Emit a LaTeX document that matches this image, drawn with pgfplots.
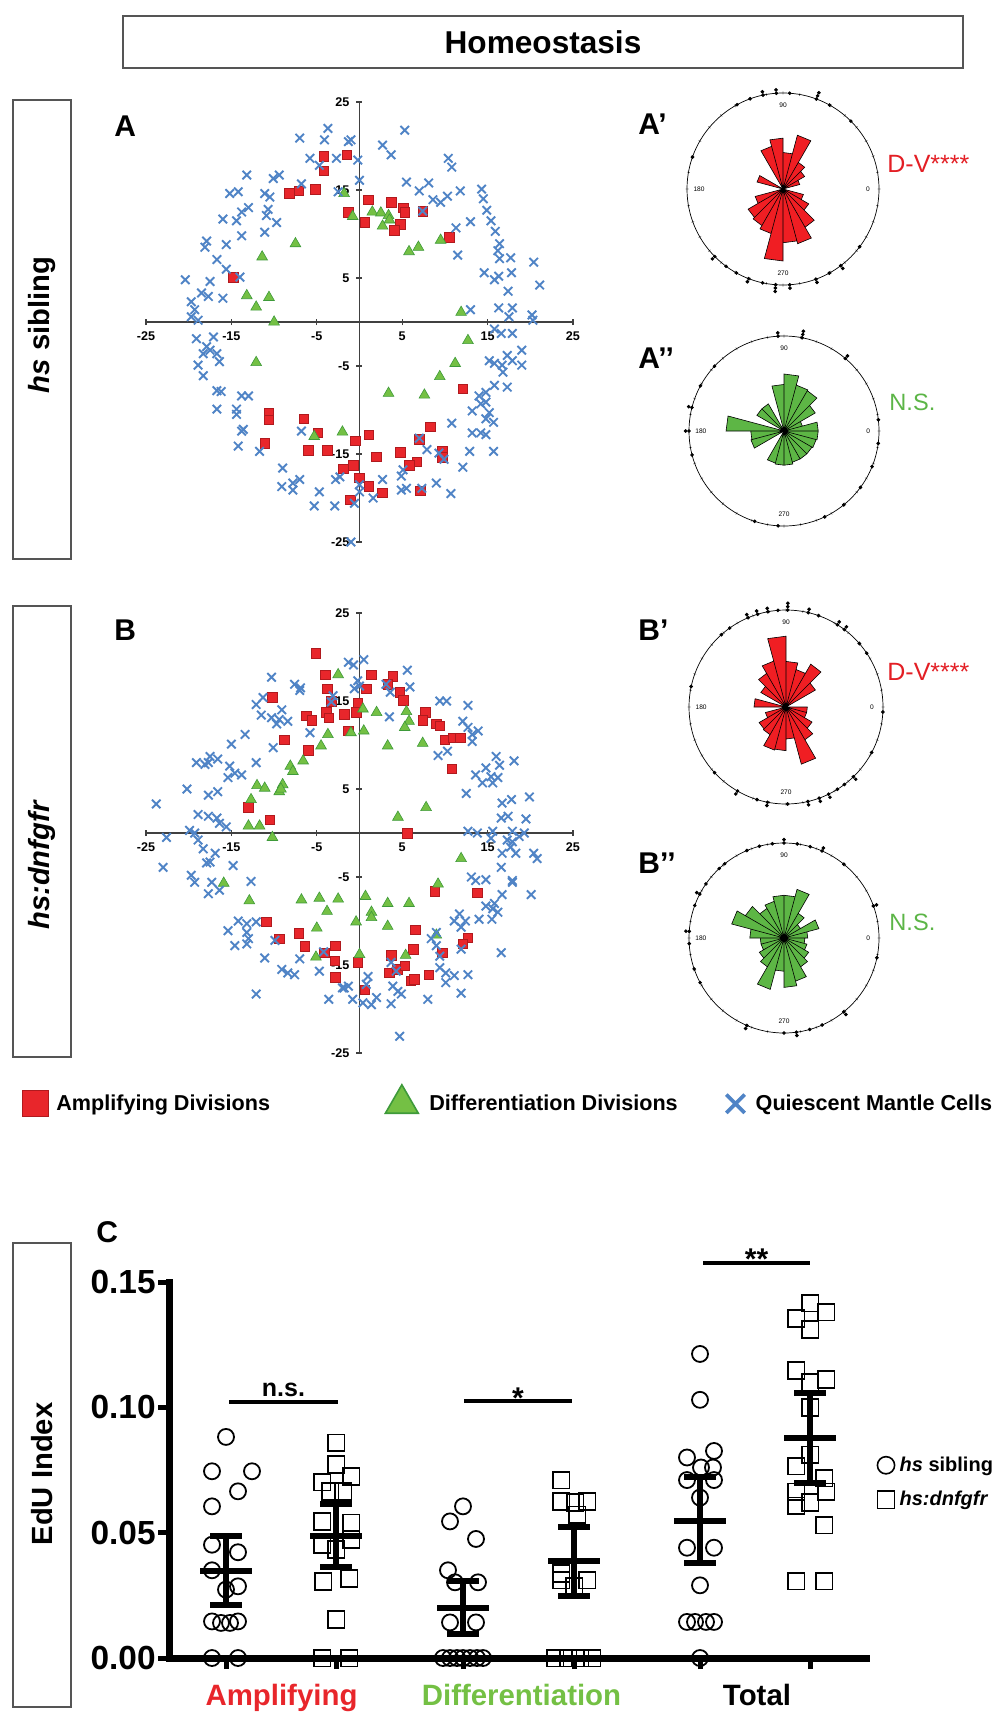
\documentclass[border=0pt]{standalone}
\usepackage{pgfplots}
\pgfplotsset{compat=1.18}
\usepgfplotslibrary{polar}
\usepackage{fontspec}
\setmainfont{Liberation Sans}
\definecolor{sqred}{HTML}{E8262B}
\definecolor{sqredd}{HTML}{B01A1E}
\definecolor{trigreen}{HTML}{74C044}
\definecolor{trigreend}{HTML}{3E9A3A}
\definecolor{xblue}{HTML}{5084C6}
\definecolor{rosered}{HTML}{F01E23}
\definecolor{rosegreen}{HTML}{5DB645}
\definecolor{txtred}{HTML}{E31E24}
\definecolor{txtgreen}{HTML}{5CB547}
\definecolor{axgray}{HTML}{404040}
\definecolor{boxgray}{HTML}{555555}
\newcommand{\fs}[2]{\fontsize{#1}{#2}\selectfont}
\pgfplotsset{
  scat/.style={scale only axis, width=213.5pt, height=220pt,
    xmin=-25, xmax=25, ymin=-25, ymax=25,
    axis lines=middle, axis line style={-, line width=0.6pt, color=axgray},
    xtick={-25,-15,...,25}, ytick={-25,-15,...,25},
    tick align=center, major tick length=3pt, tick style={line width=0.6pt, color=axgray},
    ticklabel style={font=\bfseries\fs{6.3}{7}},
    /pgf/number format/assume math mode=true, clip=false},
  amp/.style={only marks, mark=square*, mark size=2.4pt, mark options={fill=sqred, draw=sqredd, line width=0.3pt}},
  dif/.style={only marks, mark=triangle*, mark size=3.1pt, mark options={fill=trigreen, draw=trigreend, line width=0.3pt}},
  qui/.style={only marks, mark=x, mark size=3pt, mark options={draw=xblue, line width=0.95pt}},
  rose/.style={scale only axis, width=#1, height=#1, ymin=0, ymax=1, ytick=\empty,
    xtick={0,10,...,350}, xticklabels={}, grid=none, clip=false,
    axis line style={line width=0.35pt}, y axis line style={draw=none},
    major tick length=1.5pt, tick align=center, tick style={line width=0.3pt}},
  rimdots/.style={only marks, mark=*, mark size=0.7pt, black},
}
\newcommand{\ebar}[8]{%
 \addplot[line width=3pt, forget plot] coordinates {(#1,#6) (#3,#6)};
 \addplot[line width=3pt, forget plot] coordinates {(#2,#7) (#2,#8)};
 \addplot[line width=3pt, forget plot] coordinates {(#4,#7) (#5,#7)};
 \addplot[line width=3pt, forget plot] coordinates {(#4,#8) (#5,#8)};
}
\newcommand{\roselabels}{%
 \node[font=\fs{3.3}{4}] at (axis cs:90,0.875) {90};
 \node[font=\fs{3.3}{4}] at (axis cs:180,0.875) {180};
 \node[font=\fs{3.3}{4}] at (axis cs:0,0.885) {0};
 \node[font=\fs{3.3}{4}] at (axis cs:270,0.875) {270};
}
\begin{document}
\begin{tikzpicture}
\path[use as bounding box] (0,0) rectangle (500pt,-856pt);
% frames and labels
\draw[boxgray, line width=0.75pt] (61.5pt,-8pt) rectangle (481.5pt,-34pt);
\node[font=\bfseries\fs{15.8}{19}] at (271.5pt,-21pt) {Homeostasis};
\draw[boxgray, line width=0.75pt] (6.5pt,-50pt) rectangle (35.5pt,-279.5pt);
\node[rotate=90, font=\bfseries\fs{14.6}{17}] at (21pt,-162.5pt) {\textit{hs} sibling};
\draw[boxgray, line width=0.75pt] (6.5pt,-303pt) rectangle (35.5pt,-528.5pt);
\node[rotate=90, font=\bfseries\fs{14.6}{17}] at (21pt,-432.5pt) {\textit{hs:dnfgfr}};
\draw[boxgray, line width=0.75pt] (6.5pt,-621.5pt) rectangle (35.5pt,-853.5pt);
\node[rotate=90, font=\bfseries\fs{14.6}{17}] at (21pt,-737pt) {EdU Index};
\node[anchor=base west, inner sep=0pt, font=\bfseries\fs{15}{18}] at (57pt,-68.5pt) {A};
\node[anchor=base west, inner sep=0pt, font=\bfseries\fs{15}{18}] at (57pt,-320pt) {B};
\node[anchor=base west, inner sep=0pt, font=\bfseries\fs{15}{18}] at (319pt,-67.5pt) {A’};
\node[anchor=base west, inner sep=0pt, font=\bfseries\fs{15}{18}] at (319pt,-184pt) {A’’};
\node[anchor=base west, inner sep=0pt, font=\bfseries\fs{15}{18}] at (319pt,-320pt) {B’};
\node[anchor=base west, inner sep=0pt, font=\bfseries\fs{15}{18}] at (319pt,-436.5pt) {B’’};
\node[anchor=base west, inner sep=0pt, font=\bfseries\fs{15}{18}] at (48pt,-621pt) {C};
\node[anchor=base west, inner sep=0pt, text=txtred, font=\fs{12.5}{15}] at (443.5pt,-86.5pt) {D-V****};
\node[anchor=base west, inner sep=0pt, text=txtgreen, font=\fs{11.8}{14}] at (444.5pt,-205pt) {N.S.};
\node[anchor=base west, inner sep=0pt, text=txtred, font=\fs{12.5}{15}] at (443.5pt,-340pt) {D-V****};
\node[anchor=base west, inner sep=0pt, text=txtgreen, font=\fs{11.8}{14}] at (444.5pt,-465pt) {N.S.};

% ---------------- Scatter A
\begin{axis}[scat, at={(73pt,-271pt)}, anchor=south west]
\addplot[amp] coordinates {(-4.2,18.8) (-1.5,19.0) (-4.2,17.2) (-8.2,14.6) (-7.1,14.9) (-5.2,15.1) (-1.3,12.5) (-14.8,5.1) (1.0,13.9) (0.6,11.3) (3.7,13.6) (5.1,13.0) (5.3,12.5) (4.8,11.1) (4.1,10.4) (7.4,12.6) (10.5,9.6) (-10.6,-10.3) (-10.6,-11.1) (-6.5,-11.0) (-4.9,-12.6) (-11.1,-13.8) (-6.0,-14.6) (-3.8,-14.6) (-1.9,-16.7) (-1.1,-20.2) (12.1,-7.6) (8.3,-11.9) (7.0,-13.3) (1.1,-12.8) (-0.5,-13.5) (2.0,-15.3) (4.8,-14.8) (9.7,-14.7) (9.7,-15.4) (6.7,-15.9) (5.8,-16.3) (-0.7,-16.3) (0,-17.7) (1.1,-18.7) (2.7,-19.4) (7.1,-19.2)};
\addplot[dif] coordinates {(-1.8,14.6) (-7.5,8.9) (-11.4,7.4) (-13.2,3.0) (-10.6,2.8) (-12.1,1.7) (-10.0,0.0) (-0.8,12.0) (1.5,12.5) (2.5,12.4) (3.4,12.1) (3.5,11.6) (2.7,10.9) (5.8,8.0) (6.9,8.5) (9.5,9.3) (11.9,1.1) (-12.1,-4.6) (-5.3,-13.0) (-2.0,-12.5) (12.7,-2.1) (11.2,-4.7) (9.4,-6.2) (3.4,-8.1) (7.6,-8.3)};
\addplot[qui] coordinates {(-3.7,22.0) (-7.0,20.9) (-4.1,20.7) (-1.3,20.5) (-5.8,18.6) (-4.7,17.8) (-2.7,18.6) (-13.2,16.7) (-10.1,16.3) (-9.4,16.7) (-15.2,14.6) (-14.2,14.8) (-11.1,14.6) (-10.5,14.2) (-6.8,15.7) (-2.5,14.8) (-13.0,13.0) (-13.8,12.5) (-10.7,12.8) (-16.0,11.7) (-14.4,11.5) (-10.9,12.1) (-9.7,11.3) (-13.8,9.8) (-11.1,10.2) (-15.6,8.8) (-17.9,9.2) (-18.1,8.5) (-16.7,7.1) (-15.6,6.0) (-14.0,5.1) (-20.4,4.8) (-17.5,4.6) (-18.5,3.3) (-17.7,2.9) (-19.7,2.3) (-16.0,2.7) (-19.3,1.4) (-19.7,0.6) (-18.9,0.2)
(-1.0,20.7) (-0.2,18.4) (0,16.1) (5.3,21.8) (2.7,20.1) (3.7,19.0) (5.5,15.9) (7.0,14.9) (8.1,15.8) (8.6,13.9) (9.5,13.6) (10.3,14.3) (10.4,18.6) (10.8,17.6) (11.8,14.9) (11.3,10.7) (13.0,11.4) (11.5,7.6) (7.4,12.6) (14.3,15.1) (14.5,14.0) (14.9,12.7) (15.4,11.5) (15.9,10.3) (16.4,8.9) (16.2,8.1) (16.4,7.2) (17.7,7.3) (17.8,5.6) (14.6,5.6) (15.8,4.8) (16.3,5.2) (17.4,3.5) (20.4,6.8) (21.1,4.2) (13.0,1.4) (16.3,1.6) (17.9,1.6) (17.5,0.6) (20.2,0.8) (20.3,0.2)
(-19.1,-1.9) (-17.1,-1.7) (-17.9,-2.8) (-17.5,-3.2) (-18.3,-3.6) (-16.7,-3.6) (-18.9,-4.9) (-16.4,-4.5) (-18.3,-6.1) (-16.7,-7.8) (-16.2,-7.9) (-13.8,-8.4) (-13.0,-8.4) (-16.7,-9.9) (-14.4,-9.9) (-14.4,-10.5) (-13.8,-12.4) (-13.6,-12.2) (-14.2,-14.1) (-11.7,-14.7) (-6.8,-12.4) (-9.0,-16.6) (-9.1,-18.7) (-7.8,-18.3) (-7.0,-17.9) (-7.8,-19.1) (-4.7,-19.3) (-5.3,-20.9) (-2.9,-20.9) (-2.8,-17.9) (-2.3,-17.6) (-1.0,-25.0)
(15.8,-0.8) (16.6,-1.3) (17.9,-1.3) (19.0,-3.2) (17.3,-3.8) (15.2,-4.4) (15.8,-4.7) (16.7,-4.9) (17.9,-4.4) (19.0,-4.9) (16.8,-5.7) (17.3,-7.4) (15.8,-7.2) (14.8,-8.0) (14.0,-8.4) (14.8,-9.1) (14.2,-9.3) (13.2,-10.1) (15.2,-10.3) (14.8,-11.0) (15.7,-11.4) (13.2,-12.6) (14.2,-12.6) (14.8,-12.8) (10.8,-11.5) (15.7,-14.7) (12.9,-14.7) (12.1,-16.5) (7.0,-13.2) (7.9,-14.5) (9.3,-14.9) (9.9,-15.6) (9.0,-18.3) (10.7,-19.5) (7.3,-18.9) (5.1,-16.8) (4.9,-17.5) (4.9,-19.1) (5.5,-18.9) (2.7,-17.9) (1.6,-20.0) (0,-19.3) (-0.6,-20.6) (0,-18.5)};
\end{axis}

% ---------------- Scatter B
\begin{axis}[scat, at={(73pt,-526.5pt)}, anchor=south west, legend columns=3,
  legend style={at={(-0.2904,-0.1085)}, anchor=west, draw=none, fill=none, inner sep=0pt, column sep=0pt,
    nodes={inner sep=0pt, font=\bfseries\fs{10.8}{13}}}, legend cell align=left]
\addlegendimage{only marks, mark=square*, mark size=6.5pt, mark options={fill=sqred, draw=sqredd, line width=0.5pt}}
\addlegendentry{\makebox[168.5pt][l]{\hspace*{4pt}Amplifying Divisions}}
\addlegendimage{only marks, mark=triangle*, mark size=9.5pt, mark options={fill=trigreen, draw=trigreend, line width=0.8pt}}
\addlegendentry{\makebox[154pt][l]{\hspace*{5.5pt}Differentiation Divisions}}
\addlegendimage{only marks, mark=x, mark size=6.5pt, mark options={draw=xblue, line width=1.8pt}}
\addlegendentry{\makebox[120pt][l]{\hspace*{5.5pt}Quiescent Mantle Cells}}
\addplot[amp, forget plot] coordinates {(-5.1,20.4) (-4.0,18.0) (-3.8,16.4) (-10.2,15.4) (-3.3,15.0) (-6.2,13.3) (-5.6,12.8) (-3.9,13.7) (-3.6,13.1) (-1.8,13.5) (-1.3,11.6) (-8.8,10.6) (-6.0,9.4) (-13.0,2.9) (-10.5,1.5)
(1.4,18.0) (0.8,16.4) (3.9,17.8) (3.3,16.9) (4.7,16.0) (5.1,15.1) (-0.2,14.8) (-0.4,13.7) (7.7,13.7) (7.4,12.8) (9.0,12.4) (9.4,12.2) (10.0,10.6) (11.0,10.8) (11.8,10.8) (10.8,7.3) (5.6,0.0)
(-10.9,-10.1) (-9.4,-12.0) (-7.1,-11.4) (-6.4,-12.9) (-4.1,-13.6) (-2.8,-12.8) (-2.9,-14.5) (-2.8,-16.4)
(8.8,-6.6) (13.8,-6.8) (6.5,-11.0) (12.7,-11.9) (12.1,-12.6) (6.3,-13.2) (9.7,-13.6) (3.7,-13.9) (-0.2,-14.7) (3.5,-15.9) (4.4,-15.5) (5.3,-15.1) (8.1,-16.1) (6.0,-16.8) (6.4,-16.6) (0.6,-17.8)};
\addplot[dif, forget plot] coordinates {(-2.5,18.0) (-3.7,11.2) (-4.5,9.9) (-6.6,8.2) (-8.1,7.6) (-7.8,7.0) (-9.0,5.5) (-12.0,5.4) (-11.1,5.1) (-9.4,4.7) (-9.2,5.0) (-12.7,3.8) (-13.0,0.8) (-11.7,0.8)
(0.4,14.1) (2.0,13.7) (-1.0,11.4) (0.5,11.6) (5.5,13.8) (5.8,12.7) (5.3,12.0) (3.3,9.9) (7.4,10.2) (4.5,1.8) (7.8,2.9)
(-10.2,-0.5) (-15.9,-5.7) (-12.9,-7.7) (-6.8,-7.6) (-4.7,-7.4) (-2.5,-7.5) (-3.8,-8.9) (-5.0,-10.8) (-5.1,-14.1)
(11.9,-2.9) (9.2,-5.8) (0.7,-7.2) (3.3,-8.0) (5.8,-8.0) (1.4,-9.0) (1.4,-9.6) (-0.4,-10.1) (3.3,-10.6) (9.0,-11.6) (0,-13.8) (5.4,-13.9)};
\addplot[qui, forget plot] coordinates {(-10.3,17.7) (-7.6,16.9) (-7.0,16.2) (-6.9,16.5) (-1.3,19.4) (-11.3,15.4) (-12.1,14.6) (-9.1,14.0) (-11.5,13.4) (-10.3,13.1) (-9.4,12.9) (-8.4,12.7) (-9.7,12.4) (-3.1,15.6) (-3.3,14.9) (-5.8,11.4) (-13.4,11.2) (-15.0,10.1) (-10.1,9.7) (-17.5,8.7) (-19.1,8.0) (-18.1,7.8) (-16.6,8.4) (-17.7,8.0) (-12.1,8.0) (-15.2,7.6) (-14.6,6.8) (-13.8,6.6) (-15.4,6.3) (-20.2,5.0) (-17.7,4.3) (-16.6,4.7) (-23.8,3.3) (-18.9,2.1) (-17.7,1.9) (-16.7,1.7) (-16.4,1.1) (-19.9,0.3) (-15.6,0.7)
(-0.7,19.1) (0.5,19.7) (-0.2,17.3) (-0.6,16.4) (0,16.7) (3.1,16.9) (3.6,16.0) (5.6,18.5) (5.9,16.6) (3.5,13.2) (9.4,15.0) (10.2,15.0) (12.7,14.5) (12.1,12.7) (12.7,12.0) (13.2,11.2) (13.9,11.6) (13.2,10.4) (9.2,8.8) (10.3,9.3) (16.0,8.7) (16.4,7.7) (14.8,7.4) (13.6,6.6) (15.4,6.4) (16.2,6.3) (14.4,5.7) (15.6,5.7) (18.1,8.2) (12.5,4.5) (16.7,3.4) (17.8,3.8) (19.9,4.1) (16.6,1.7) (17.4,1.9) (19.5,1.6) (12.7,0.2) (15.6,0.2) (17.9,0.2)
(-22.6,-0.5) (-23.0,-3.9) (-19.3,0) (-18.9,-0.8) (-18.3,-1.8) (-16.9,-2.3) (-17.5,-3.3) (-17.9,-3.4) (-14.8,-3.7) (-19.7,-4.8) (-19.3,-5.6) (-17.3,-5.6) (-16.4,-6.5) (-17.7,-6.9) (-12.7,-5.5) (-14.2,-10.0) (-15.4,-11.1) (-13.2,-10.3) (-12.1,-10.1) (-13.2,-11.3) (-13.0,-12.0) (-14.6,-12.8) (-13.2,-12.6) (-9.9,-12.2) (-11.1,-14.2) (-9.1,-15.5) (-8.4,-15.9) (-7.6,-16.1) (-7.0,-14.3) (-4.7,-15.7) (-4.2,-13.5) (-12.1,-18.3) (-3.6,-18.9) (-2.0,-17.6) (-1.3,-17.4)
(13.8,0) (15.4,-0.6) (17.3,-0.8) (17.9,-1.0) (18.7,-0.4) (19.3,0) (17.7,-1.6) (16.7,-2.3) (18.3,-2.3) (20.4,-2.3) (20.8,-2.9) (16.6,-3.9) (17.9,-5.4) (17.9,-5.6) (13.1,-5.0) (13.6,-5.4) (14.8,-5.3) (16.7,-7.0) (20.1,-7.0) (15.8,-8.0) (14.8,-8.3) (15.6,-8.6) (16.2,-9.0) (14.0,-9.8) (15.5,-9.8) (11.7,-9.2) (11.1,-10.0) (12.4,-10.0) (11.9,-10.7) (9.0,-11.3) (8.4,-12.0) (9.0,-12.8) (9.4,-14.0) (11.9,-13.2) (16.6,-13.6) (9.4,-15.3) (10.1,-15.9) (11.1,-16.2) (12.7,-16.1) (10.1,-17.0) (11.9,-18.2) (8.0,-18.9) (1.0,-16.3) (0.8,-17.2) (3.7,-14.7) (4.3,-15.7) (3.9,-17.4) (4.5,-18.0) (4.9,-18.3) (3.7,-19.4) (-1.8,-17.6) (-0.8,-18.9) (0.4,-19.3) (1.4,-19.5) (2.0,-18.7) (4.7,-23.1)};
\end{axis}

% ---------------- Rose A'
\begin{polaraxis}[rose=96pt, at={(391.5pt,-94.5pt)}, anchor=center]
\addplot[fill=rosered, draw=black, line width=0.3pt] coordinates {(0,0) (15,0.18) (30,0.18) (0,0) (30,0.26) (45,0.26) (0,0) (45,0.32) (60,0.32) (0,0) (60,0.58) (75,0.58) (0,0) (75,0.38) (90,0.38) (0,0) (90,0.53) (105,0.53) (0,0) (105,0.46) (120,0.46) (0,0) (150,0.28) (165,0.28) (0,0) (195,0.30) (210,0.30) (0,0) (210,0.42) (225,0.42) (0,0) (225,0.44) (240,0.44) (0,0) (240,0.48) (255,0.48) (0,0) (255,0.75) (270,0.75) (0,0) (270,0.56) (285,0.56) (0,0) (285,0.59) (300,0.59) (0,0) (300,0.46) (315,0.46) (0,0) (315,0.31) (330,0.31) (0,0) (330,0.22) (345,0.22) (0,0)};
\addplot[rimdots] coordinates {(118.6,1) (110,1) (86,1) (61,1) (45,1) (160.6,1) (233.6,1) (241,1) (257.7,1) (298.8,1) (323,1) (102,1) (102,1.035) (94,1) (94,1.035) (224.7,1) (224.7,1.035) (249,1) (249,1.035) (274,1) (274,1.035) (290,1) (290,1.035) (307,1) (307,1.035) (69.6,1) (69.6,1.035) (69.6,1.07) (265.6,1) (265.6,1.035) (265.6,1.07)};
\roselabels
\end{polaraxis}

% ---------------- Rose A''
\begin{polaraxis}[rose=95pt, at={(392pt,-215.5pt)}, anchor=center]
\addplot[fill=rosegreen, draw=black, line width=0.3pt] coordinates {(0,0) (0,0.36) (15,0.36) (0,0) (15,0.2) (30,0.2) (0,0) (30,0.38) (45,0.38) (0,0) (45,0.49) (60,0.49) (0,0) (60,0.50) (75,0.50) (0,0) (75,0.60) (90,0.60) (0,0) (90,0.49) (105,0.49) (0,0) (120,0.33) (135,0.33) (0,0) (135,0.33) (150,0.33) (0,0) (165,0.61) (180,0.61) (0,0) (180,0.35) (195,0.35) (0,0) (195,0.36) (210,0.36) (0,0) (240,0.35) (255,0.35) (0,0) (255,0.36) (270,0.36) (0,0) (270,0.36) (285,0.36) (0,0) (285,0.34) (300,0.34) (0,0) (300,0.34) (315,0.34) (0,0) (315,0.34) (330,0.34) (0,0) (330,0.35) (345,0.35) (0,0) (345,0.36) (360,0.36) (0,0)};
\addplot[rimdots] coordinates {(137,1) (151.6,1) (194.6,1) (252,1) (266.4,1) (295.4,1) (309,1) (323.6,1) (338,1) (352.5,1) (6.8,1) (93.6,1) (93.6,1.035) (49.8,1) (49.8,1.035) (165.7,1) (165.7,1.035) (180,1) (180,1.035) (79,1) (79,1.035) (79,1.07)};
\roselabels
\end{polaraxis}

% ---------------- Rose B'
\begin{polaraxis}[rose=97pt, at={(393pt,-353.5pt)}, anchor=center]
\addplot[fill=rosered, draw=black, line width=0.3pt] coordinates {(0,0) (30,0.35) (45,0.35) (0,0) (45,0.51) (60,0.51) (0,0) (60,0.40) (75,0.40) (0,0) (75,0.47) (90,0.47) (0,0) (90,0.73) (105,0.73) (0,0) (105,0.49) (120,0.49) (0,0) (120,0.40) (135,0.40) (0,0) (135,0.30) (150,0.30) (0,0) (165,0.33) (180,0.33) (0,0) (195,0.22) (210,0.22) (0,0) (210,0.32) (225,0.32) (0,0) (225,0.33) (240,0.33) (0,0) (240,0.46) (255,0.46) (0,0) (255,0.45) (270,0.45) (0,0) (270,0.33) (285,0.33) (0,0) (285,0.61) (300,0.61) (0,0) (300,0.39) (315,0.39) (0,0) (315,0.31) (330,0.31) (0,0) (330,0.22) (345,0.22) (0,0) (345,0.22) (360,0.22) (0,0)};
\addplot[rimdots] coordinates {(94.8,1) (70.4,1) (41,1) (33.7,1) (125.5,1) (131.8,1) (167.8,1) (357,1) (332,1) (307,1) (302,1) (271,1) (252.6,1) (222.6,1) (113,1) (113,1.035) (107,1) (107,1.035) (100.8,1) (100.8,1.035) (76.7,1) (76.7,1.035) (58,1) (58,1.035) (53,1) (53,1.035) (314,1) (314,1.035) (296,1) (296,1.035) (290,1) (290,1.035) (283,1) (283,1.035) (259,1) (259,1.035) (240,1) (240,1.035) (89,1) (89,1.035) (89,1.07)};
\roselabels
\end{polaraxis}

% ---------------- Rose B''
\begin{polaraxis}[rose=95pt, at={(392pt,-469pt)}, anchor=center]
\addplot[fill=rosegreen, draw=black, line width=0.3pt] coordinates {(0,0) (0,0.25) (15,0.25) (0,0) (15,0.38) (30,0.38) (0,0) (30,0.2) (45,0.2) (0,0) (45,0.3) (60,0.3) (0,0) (60,0.53) (75,0.53) (0,0) (75,0.45) (90,0.45) (0,0) (90,0.45) (105,0.45) (0,0) (105,0.40) (120,0.40) (0,0) (120,0.36) (135,0.36) (0,0) (135,0.47) (150,0.47) (0,0) (150,0.57) (165,0.57) (0,0) (165,0.36) (180,0.36) (0,0) (180,0.25) (195,0.25) (0,0) (195,0.25) (210,0.25) (0,0) (210,0.30) (225,0.30) (0,0) (225,0.35) (240,0.35) (0,0) (240,0.56) (255,0.56) (0,0) (255,0.35) (270,0.35) (0,0) (270,0.52) (285,0.52) (0,0) (285,0.47) (300,0.47) (0,0) (300,0.35) (315,0.35) (0,0) (315,0.30) (330,0.30) (0,0) (330,0.25) (345,0.25) (0,0) (345,0.22) (360,0.22) (0,0)};
\addplot[rimdots] coordinates {(97,1) (82,1) (74,1) (51,1) (113,1) (105,1) (128.6,1) (133,1) (145.3,1) (160,1) (183.4,1) (199,1) (208,1) (348,1) (293.7,1) (285.7,1) (270,1) (90,1) (90,1.035) (66.4,1) (66.4,1.035) (19.7,1) (19.7,1.035) (152.5,1) (152.5,1.035) (176,1) (176,1.035) (309,1) (309,1.035) (277.5,1) (277.5,1.035) (247,1) (247,1.035)};
\roselabels
\end{polaraxis}

% ---------------- Panel C
\begin{axis}[at={(84.5pt,-829pt)}, anchor=south west, scale only axis, width=348.5pt, height=188pt,
  xmin=169, xmax=866, ymin=0, ymax=0.15,
  axis x line=bottom, axis y line=left,
  axis line style={-, line width=3.5pt, black, line cap=rect},
  xtick={226,336,463,574,700,810}, xticklabels={},
  ytick={0,0.05,0.10,0.15}, scaled y ticks=false,
  tick align=outside, major tick length=5.5pt, tick style={line width=2.5pt, black},
  yticklabel style={font=\bfseries\fs{16.7}{20}, inner sep=1pt, /pgf/number format/fixed, /pgf/number format/fixed zerofill, /pgf/number format/precision=2},
  /pgf/number format/assume math mode=true, clip=false,
  legend style={at={(1.0158,0.4668)}, anchor=west, draw=none, fill=none, inner sep=0pt, row sep=8.5pt,
    nodes={inner sep=0pt, font=\bfseries\fs{10}{12}}}, legend cell align=left]
\addlegendimage{only marks, mark=o, mark size=4.3pt, line width=0.8pt, black}
\addlegendentry{\hspace*{2.5pt}\textit{hs} sibling}
\addlegendimage{only marks, mark=square, mark size=4.3pt, line width=0.8pt, black}
\addlegendentry{\hspace*{2.5pt}\textit{hs:dnfgfr}}
% sibling circles
\addplot[only marks, mark=o, mark size=4pt, line width=0.9pt, black, forget plot] coordinates {
(226,0.0882) (212,0.0745) (252,0.0745) (238,0.0665) (212,0.0605) (212,0.0452) (238,0.0422) (212,0.0350) (238,0.0286) (226,0.0273) (212,0.0146) (221,0.0140) (230,0.0140) (238,0.0146) (212,0) (238,0)
(463,0.0605) (450,0.0545) (476,0.0475) (448,0.0350) (455,0.0302) (478,0.0302) (450,0.0142) (476,0.0142) (443,0) (450,0) (457,0) (463,0) (470,0) (477,0) (483,0)
(700,0.1213) (700,0.1030) (714,0.0826) (687,0.0800) (701,0.0760) (713,0.0760) (687,0.0710) (714,0.0710) (700,0.0640) (687,0.0440) (714,0.0440) (700,0.0290) (687,0.0144) (695,0.0144) (706,0.0144) (714,0.0144) (700,0)};
% dnfgfr squares
\addplot[only marks, mark=square, mark size=4.2pt, line width=0.9pt, black, forget plot] coordinates {
(336,0.0858) (336,0.0771) (351,0.0725) (322,0.0702) (330,0.0665) (343,0.0665) (322,0.0545) (351,0.0539) (351,0.0472) (322,0.0452) (336,0.0432) (323,0.0306) (349,0.0317) (336,0.0153) (322,0) (349,0)
(561,0.0710) (561,0.0624) (575,0.0620) (587,0.0624) (577,0.0571) (561,0.0338) (561,0.0311) (587,0.0311) (574,0.0285) (555,0) (568,0) (580,0) (592,0)
(810,0.1416) (826,0.1380) (796,0.1355) (810,0.1310) (796,0.1146) (826,0.1110) (810,0.1098) (810,0.1000) (810,0.0810) (796,0.0766) (824,0.0718) (796,0.0663) (826,0.0663) (810,0.0620) (796,0.0607) (824,0.0530) (796,0.0307) (824,0.0307)};
\ebar{200}{226}{252}{210}{242}{0.0348}{0.0213}{0.0488}
\ebar{310}{336}{362}{320}{352}{0.0488}{0.0363}{0.0616}
\ebar{437}{463}{489}{447}{479}{0.0200}{0.0097}{0.0306}
\ebar{548}{574}{600}{558}{590}{0.0387}{0.0247}{0.0524}
\ebar{674}{700}{726}{684}{716}{0.0547}{0.0380}{0.0722}
\ebar{784}{810}{836}{794}{826}{0.0878}{0.0700}{0.1057}
\addplot[line width=2pt, forget plot] coordinates {(229,0.1021) (338,0.1021)};
\addplot[line width=2pt, forget plot] coordinates {(464,0.1025) (572,0.1025)};
\addplot[line width=2pt, forget plot] coordinates {(703,0.1576) (810,0.1576)};
\node[anchor=base, inner sep=0pt, font=\bfseries\fs{12.5}{15}] at (axis cs:283.5,0.1042) {n.s.};
\node[anchor=base, inner sep=0pt, font=\bfseries\fs{15}{18}] at (axis cs:518,0.0994) {*};
\node[anchor=base, inner sep=0pt, font=\bfseries\fs{15}{18}] at (axis cs:756.5,0.1548) {**};
\node[anchor=base, inner sep=0pt, text=sqred, font=\bfseries\fs{14.7}{17}] at (axis cs:281.5,-0.01875) {Amplifying};
\node[anchor=base, inner sep=0pt, text=trigreen, font=\bfseries\fs{14.7}{17}] at (axis cs:521.5,-0.01875) {Differentiation};
\node[anchor=base, inner sep=0pt, font=\bfseries\fs{14.7}{17}] at (axis cs:757,-0.01875) {Total};
\end{axis}
\end{tikzpicture}
\end{document}
